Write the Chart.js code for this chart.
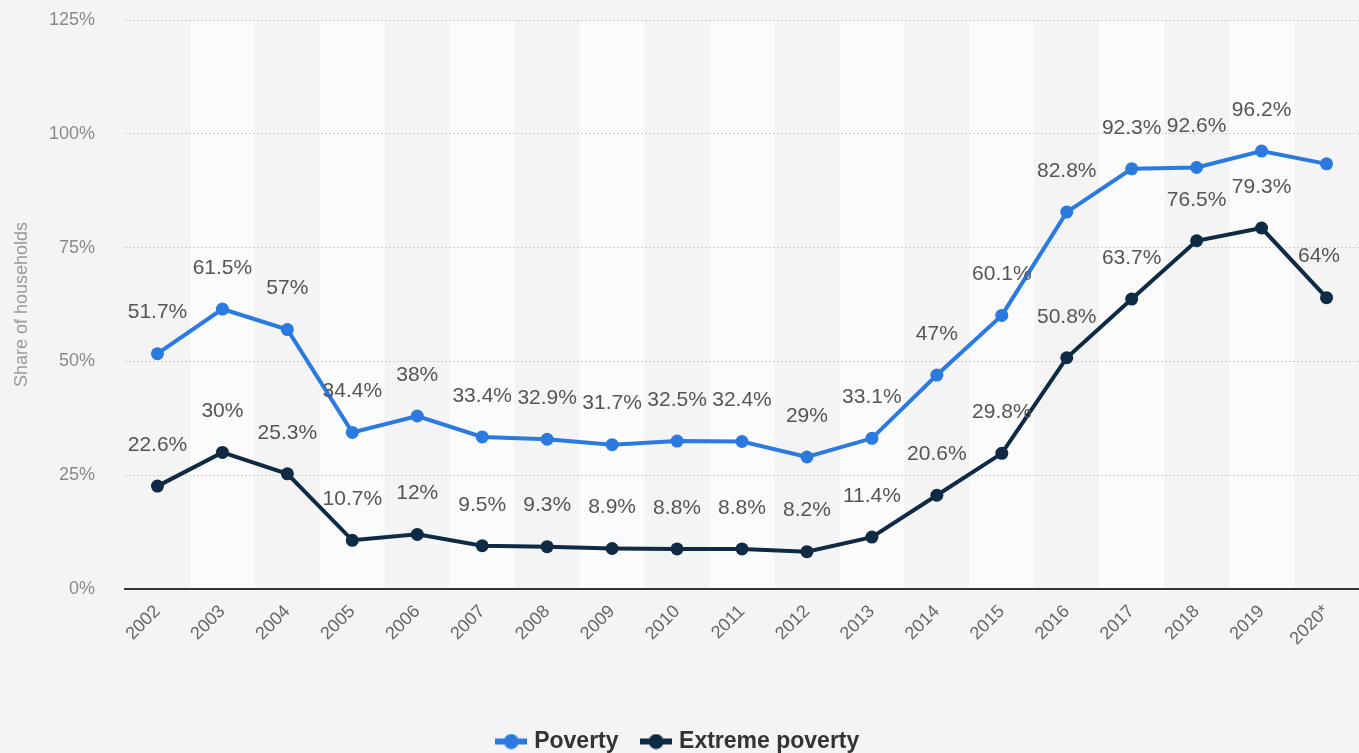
<!DOCTYPE html>
<html>
<head>
<meta charset="utf-8">
<script src="https://cdn.jsdelivr.net/npm/chart.js@4/dist/chart.umd.min.js"></script>
<style>
  html, body { margin: 0; padding: 0; background: #f4f4f4; }
  #wrap { width: 1359px; height: 753px; position: relative; }
</style>
</head>
<body>
<div id="wrap"><canvas id="c" width="1359" height="753"></canvas></div>
<script>
const categories = ["2002","2003","2004","2005","2006","2007","2008","2009","2010","2011","2012","2013","2014","2015","2016","2017","2018","2019","2020*"];
const poverty = [51.7, 61.5, 57, 34.4, 38, 33.4, 32.9, 31.7, 32.5, 32.4, 29, 33.1, 47, 60.1, 82.8, 92.3, 92.6, 96.2, 93.4];
const extremePoverty = [22.6, 30, 25.3, 10.7, 12, 9.5, 9.3, 8.9, 8.8, 8.8, 8.2, 11.4, 20.6, 29.8, 50.8, 63.7, 76.5, 79.3, 64];
const povertyLabelShown = [true,true,true,true,true,true,true,true,true,true,true,true,true,true,true,true,true,true,false];
const yTicks = [0, 25, 50, 75, 100, 125];

const BLUE = '#2a7ae0';
const NAVY = '#0f2a44';
const FONT = '"Liberation Sans", Arial, sans-serif';

function legendIcon(color) {
  const c = document.createElement('canvas');
  c.width = 32; c.height = 16;
  const g = c.getContext('2d');
  g.strokeStyle = color; g.lineWidth = 6;
  g.beginPath(); g.moveTo(0, 8); g.lineTo(32, 8); g.stroke();
  g.fillStyle = color;
  g.beginPath(); g.arc(16, 8, 7.5, 0, Math.PI * 2); g.fill();
  return c;
}

const bandPlugin = {
  id: 'bands',
  beforeDraw(chart) {
    const {ctx, chartArea, scales} = chart;
    ctx.save();
    ctx.fillStyle = '#f4f4f4';
    ctx.fillRect(0, 0, chart.width, chart.height);
    const xs = scales.x;
    const step = xs.width / categories.length;
    ctx.fillStyle = '#fbfbfb';
    categories.forEach((c, i) => {
      if (i % 2 === 1) {
        const cx = xs.getPixelForValue(i);
        ctx.fillRect(cx - step / 2, chartArea.top, step, chartArea.bottom - chartArea.top);
      }
    });
    ctx.restore();
  }
};

const labelPlugin = {
  id: 'valueLabels',
  afterDatasetsDraw(chart) {
    const {ctx} = chart;
    ctx.save();
    ctx.font = '21px ' + FONT;
    ctx.fillStyle = '#555555';
    ctx.textAlign = 'center';
    ctx.textBaseline = 'middle';
    chart.data.datasets.forEach((ds, di) => {
      const meta = chart.getDatasetMeta(di);
      meta.data.forEach((pt, i) => {
        if (di === 0 && !povertyLabelShown[i]) return;
        const txt = ds.data[i] + '%';
        const w = ctx.measureText(txt).width;
        let x = pt.x;
        if (x + w / 2 > chart.width - 19) x = chart.width - 19 - w / 2;
        ctx.fillText(txt, x, pt.y - 41);
      });
    });
    ctx.restore();
  }
};

new Chart(document.getElementById('c'), {
  type: 'line',
  data: {
    labels: categories,
    datasets: [
      { label: 'Poverty', data: poverty, borderColor: BLUE, backgroundColor: BLUE,
        borderWidth: 4, pointRadius: 6.5, pointHoverRadius: 6.5, pointBorderWidth: 0, tension: 0 },
      { label: 'Extreme poverty', data: extremePoverty, borderColor: NAVY, backgroundColor: NAVY,
        borderWidth: 4, pointRadius: 6.5, pointHoverRadius: 6.5, pointBorderWidth: 0, tension: 0 }
    ]
  },
  options: {
    responsive: false,
    animation: false,
    devicePixelRatio: 1,
    layout: { autoPadding: false, padding: { top: 0, right: 0, left: 0, bottom: -10 } },
    plugins: {
      tooltip: { enabled: false },
      legend: {
        position: 'bottom',
        labels: {
          usePointStyle: true,
          color: '#333333',
          font: { family: FONT, size: 23, weight: 'bold' },
          padding: 26,
          generateLabels(chart) {
            return chart.data.datasets.map((ds, i) => ({
              text: ds.label,
              pointStyle: legendIcon(ds.borderColor),
              fillStyle: ds.borderColor,
              strokeStyle: ds.borderColor,
              lineWidth: 0,
              fontColor: '#333333',
              datasetIndex: i,
              hidden: false
            }));
          }
        }
      }
    },
    scales: {
      x: {
        type: 'category',
        offset: true,
        grid: { display: false, drawTicks: false },
        border: { display: true, color: '#333333', width: 2 },
        ticks: {
          maxRotation: 45, minRotation: 45, padding: 12,
          color: '#666666',
          font: { family: FONT, size: 18 }
        },
        afterFit(scale) { scale.height = 115; }
      },
      y: {
        min: 0, max: 125,
        afterBuildTicks(scale) { scale.ticks = yTicks.map(v => ({ value: v })); },
        ticks: {
          color: '#8a8a8a', padding: 30,
          font: { family: FONT, size: 18 },
          callback: v => v + '%'
        },
        grid: { color: '#cfcfcf', drawTicks: false, lineWidth: 1 },
        border: { display: false, dash: [2, 2] },
        title: {
          display: true, text: 'Share of households', color: '#9a9a9a',
          font: { family: FONT, size: 18 },
          padding: { top: 11, bottom: 0 }
        },
        afterFit(scale) { scale.width = 125; scale.paddingTop = 20; scale.paddingBottom = 0; }
      }
    }
  },
  plugins: [bandPlugin, labelPlugin]
});
</script>
</body>
</html>
